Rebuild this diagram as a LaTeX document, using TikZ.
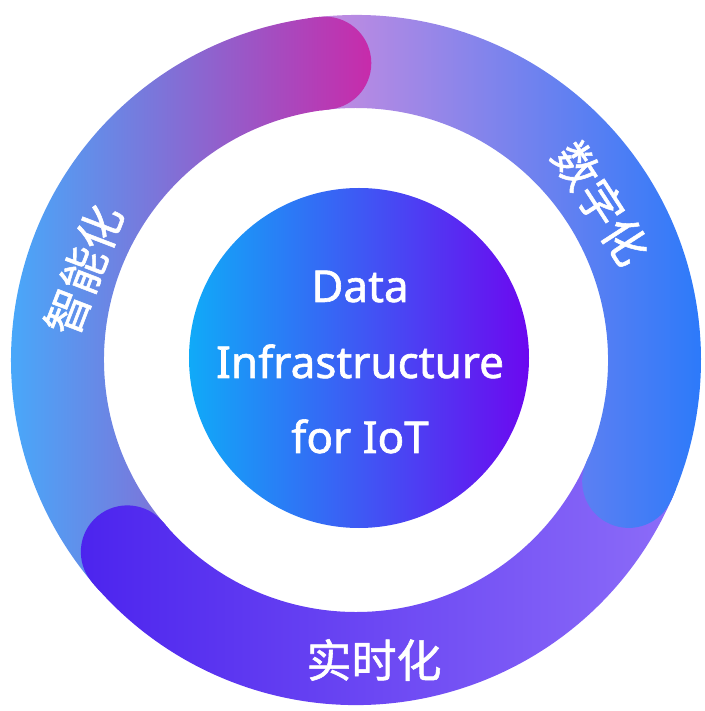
\documentclass[tikz,border=0pt]{standalone}
\usepackage{fontspec}
\setmainfont{Noto Sans}
\newfontfamily\latinfont[FakeBold=1.4]{Noto Sans}
\newfontfamily\cjkfont[FakeBold=1.2]{Noto Sans CJK SC}
\begin{document}
\begin{tikzpicture}[x=1pt,y=1pt,
  ringlabel/.style={text=white,inner sep=0pt,font=\cjkfont\fontsize{45}{45}\selectfont},
  coretext/.style={text=white,inner sep=0pt,anchor=base,font=\latinfont\fontsize{44}{44}\selectfont}]
\useasboundingbox (-356,-351) rectangle (348,360);

% ring geometry: outer / inner / middle radius and half of the band width
\def\Ro{345}\def\Ri{252}\def\Rm{298.5}\def\Hw{46.5}

% band body running clockwise from #1 down to #2 (butt ends)
\newcommand{\bandbody}[2]{(#1:\Ro) arc[start angle=#1,end angle=#2,radius=\Ro]
  -- (#2:\Ri) arc[start angle=#2,end angle=#1,radius=\Ri] -- cycle}
% rounded end of a band finishing at angle #1
\newcommand{\bandcap}[1]{({#1+2}:\Ro) arc[start angle={#1+2},end angle=#1,radius=\Ro]
  arc[start angle=#1,end angle={#1-180},radius=\Hw]
  arc[start angle=#1,end angle={#1+2},radius=\Ri] -- cycle}

% shadings of the three bands
\newcommand{\shadeA}{\shade[left color=cA1,middle color=cA2,right color=cA3] (-346,-352) rectangle (17,361);}
\newcommand{\shadeB}{\shade[left color=cB1,middle color=cB2,right color=cB3] (-45,-352) rectangle (346,361);}
\newcommand{\shadeC}{\shade[left color=cC1,right color=cC2] (-276,-352) rectangle (320,361);}

\definecolor{cA1}{HTML}{48A8FA}\definecolor{cA2}{HTML}{8A5CEE}\definecolor{cA3}{HTML}{C82AAA}
\definecolor{cB1}{HTML}{C88CE0}\definecolor{cB2}{HTML}{6A96F0}\definecolor{cB3}{HTML}{2C7AFA}
\definecolor{cC1}{HTML}{4C24EE}\definecolor{cC2}{HTML}{8C6CF8}
\definecolor{cO1}{HTML}{10AAF8}\definecolor{cO2}{HTML}{4A60F8}\definecolor{cO3}{HTML}{6C08F0}

% band bodies
\begin{scope}\clip \bandbody{221}{96}; \shadeA \end{scope}
\begin{scope}\clip \bandbody{97}{-24}; \shadeB \end{scope}
\begin{scope}\clip \bandbody{337}{220}; \shadeC \end{scope}
% rounded ends, each lying over the start of the next band
\begin{scope}\clip \bandcap{96}; \shadeA \end{scope}
\begin{scope}\clip \bandcap{-24}; \shadeB \end{scope}
\begin{scope}\clip \bandcap{220}; \shadeC \end{scope}

% central disc
\shade[left color=cO1,middle color=cO2,right color=cO3] (3,2) circle[radius=170];
\node[coretext] (t1) at (4,58) {Data};
\node[coretext] (t2) at (4,-18) {Infrastructure};
\node[coretext] (t3) at (4,-93) {for IoT};

% band labels
\node[ringlabel,rotate=69] (zhineng) at (161.7:287) {智能化};
\node[ringlabel,rotate=-57] (shuzi) at (32.6:291) {数字化};
\node[ringlabel] (shishi) at (18,-300) {实时化};
\end{tikzpicture}
\end{document}
